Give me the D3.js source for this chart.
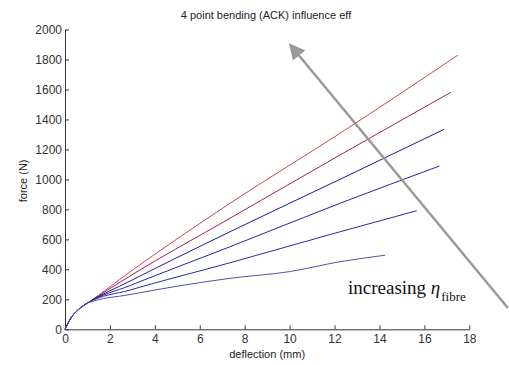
<!DOCTYPE html>
<html>
<head>
<meta charset="utf-8">
<script src="https://cdn.jsdelivr.net/npm/d3@7"></script>
<style>
  body { margin: 0; background: #fff; }
  svg { display: block; }
</style>
</head>
<body>
<div id="chart"></div>
<script>
var w = 509;
var h = 365;

// shared start of every curve (deflection mm, force N)
var xKnee = [0, 0.15, 0.3, 0.5, 0.7, 1.0];
var fKnee = [0, 45, 84, 118, 145, 175];

var deflA = [2.9, 7.35, 12.25, 17.5];
var forceA = [384, 841, 1308, 1830];
var deflB = [2.9, 7.35, 12.25, 17.18];
var forceB = [356, 741, 1163, 1581];
var deflC = [2.9, 7.35, 12.25, 16.88];
var forceC = [322, 651, 1001, 1334];
var deflD = [2.9, 7.35, 12.25, 16.67];
var forceD = [292, 551, 841, 1089];
var deflE = [2.9, 7.35, 12.25, 15.66];
var forceE = [262, 444, 651, 791];
var deflF = [2.9, 7.35, 10.0, 12.25, 14.25];
var forceF = [232, 340, 385, 451, 494];

var curveColors = ["#c94a4a", "#9b2356", "#1a1a9c", "#2424a6", "#2a2aa0", "#5050aa"];

var xTicks = [0, 2, 4, 6, 8, 10, 12, 14, 16, 18];
var yTicks = [0, 200, 400, 600, 800, 1000, 1200, 1400, 1600, 1800, 2000];

// arrow annotation in data units (tail -> head)
var arrowFrom = [19.72, 142];
var arrowTo = [10.06, 1892];

const build = (defl, force) => {
  var pts = xKnee.map((x, i) => ({ x: x, y: fKnee[i] }));
  defl.forEach((x, i) => pts.push({ x: x, y: force[i] }));
  return pts;
};

var curves = [
  build(deflA, forceA),
  build(deflB, forceB),
  build(deflC, forceC),
  build(deflD, forceD),
  build(deflE, forceE),
  build(deflF, forceF),
];

var m = { left: 65, top: 29.5, right: 39.7, bottom: 35.7 };

var x = d3.scaleLinear().domain([0, 18]).range([m.left, w - m.right]);
var y = d3.scaleLinear().domain([0, 2000]).range([h - m.bottom, m.top]);

var svg = d3.select("#chart").append("svg").attr("width", w).attr("height", h);

var sans = "Liberation Sans, Arial, sans-serif";

// title
svg.append("text")
  .attr("x", 266)
  .attr("y", 19)
  .attr("text-anchor", "middle")
  .attr("font-family", sans)
  .attr("font-size", 11)
  .attr("fill", "#222")
  .text("4 point bending (ACK) influence eff");

// axes
var xAxis = svg.append("g")
  .attr("transform", "translate(0," + y(0) + ")")
  .call(d3.axisBottom(x).tickValues(xTicks).tickFormat(d3.format("d"))
    .tickSizeInner(-4).tickSizeOuter(0).tickPadding(4));

var yAxis = svg.append("g")
  .attr("transform", "translate(" + x(0) + ",0)")
  .call(d3.axisLeft(y).tickValues(yTicks).tickFormat(d3.format("d"))
    .tickSizeInner(-4).tickSizeOuter(0).tickPadding(3));

[xAxis, yAxis].forEach((g) => {
  g.select(".domain").attr("stroke", "#333");
  g.selectAll(".tick line").attr("stroke", "#333");
  g.selectAll(".tick text")
    .attr("font-family", sans)
    .attr("font-size", 12)
    .attr("fill", "#333");
});
xAxis.selectAll(".tick text").attr("dy", "0.85em");

// axis labels
svg.append("text")
  .attr("x", x(9))
  .attr("y", 358)
  .attr("text-anchor", "middle")
  .attr("font-family", sans)
  .attr("font-size", 11)
  .attr("fill", "#222")
  .text("deflection (mm)");

svg.append("text")
  .attr("transform", "translate(27," + y(990) + ") rotate(-90)")
  .attr("text-anchor", "middle")
  .attr("font-family", sans)
  .attr("font-size", 11)
  .attr("fill", "#222")
  .text("force (N)");

// curves
var line = d3.line().x((d) => x(d.x)).y((d) => y(d.y)).curve(d3.curveMonotoneX);

svg.selectAll("path.curve")
  .data(curves)
  .enter()
  .append("path")
  .attr("class", "curve")
  .attr("d", line)
  .attr("fill", "none")
  .attr("stroke", (d, i) => curveColors[i])
  .attr("stroke-width", 1);

// arrow
svg.append("defs").append("marker")
  .attr("id", "head")
  .attr("viewBox", "0 0 10 10")
  .attr("refX", 8)
  .attr("refY", 5)
  .attr("markerUnits", "userSpaceOnUse")
  .attr("markerWidth", 16)
  .attr("markerHeight", 16)
  .attr("orient", "auto")
  .append("path")
  .attr("d", "M0,0 L10,5 L0,10 z")
  .attr("fill", "#999");

svg.append("line")
  .attr("x1", x(arrowFrom[0]))
  .attr("y1", y(arrowFrom[1]))
  .attr("x2", x(arrowTo[0]))
  .attr("y2", y(arrowTo[1]))
  .attr("stroke", "#999")
  .attr("stroke-width", 2.5)
  .attr("marker-end", "url(#head)");

// annotation text
var note = svg.append("text")
  .attr("x", 348)
  .attr("y", 294)
  .attr("font-family", "Liberation Serif, Times New Roman, serif")
  .attr("font-size", 19)
  .attr("fill", "#111");
note.append("tspan").text("increasing ");
note.append("tspan").attr("font-style", "italic").text("η");
note.append("tspan")
  .attr("font-size", 13)
  .attr("dy", 7)
  .attr("dx", 1)
  .text("fibre");
</script>
</body>
</html>
